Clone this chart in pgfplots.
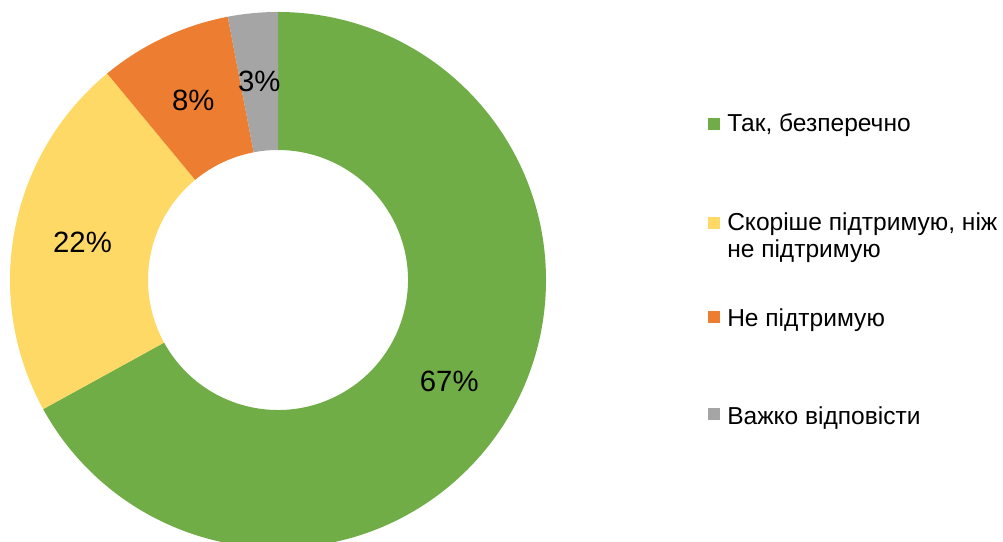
\documentclass[border=0pt]{standalone}
\usepackage{pgfplots}
\pgfplotsset{compat=1.18}
\usepackage{fontspec}
\setmainfont{Liberation Sans}
\definecolor{pgreen}{HTML}{70AD47}
\definecolor{pyellow}{HTML}{FFD966}
\definecolor{porange}{HTML}{ED7D31}
\definecolor{pgray}{HTML}{A5A5A5}
\begin{document}
\begin{tikzpicture}
\begin{axis}[scale only axis, width=752.25pt, height=406.5pt,
  xmin=0, xmax=1003, ymin=0, ymax=542, hide axis]
\def\cum{0}
\pgfplotsforeachungrouped \v/\c in {67/pgreen,22/pyellow,8/porange,3/pgray}{%
  \pgfmathsetmacro\a{90-\cum*3.6}%
  \pgfmathsetmacro\b{90-(\cum+\v)*3.6}%
  \pgfmathsetmacro\m{(\a+\b)/2}%
  \edef\temp{\noexpand\fill[\c] (axis cs:278,262) ++(\a:201pt) arc[start angle=\a, end angle=\b, radius=201pt] -- ++(\b+180:103.5pt) arc[start angle=\b, end angle=\a, radius=97.5pt] -- cycle;
  \noexpand\path (axis cs:278,262) ++(\m:149.25pt) node[font=\noexpand\fontsize{22}{26}\noexpand\selectfont] {\v\noexpand\%};}%
  \temp
  \pgfmathsetmacro\cum{\cum+\v}%
}
% legend
\fill[pgreen] (axis cs:708,412) rectangle (axis cs:720,424);
\node[anchor=base west, inner sep=0pt, font=\fontsize{18.4}{24}\selectfont] at (axis cs:727,410) {Так, безперечно};
\fill[pyellow] (axis cs:708,313) rectangle (axis cs:720,325);
\node[anchor=base west, inner sep=0pt, font=\fontsize{18.4}{24}\selectfont] at (axis cs:727,311) {Скоріше підтримую, ніж};
\node[anchor=base west, inner sep=0pt, font=\fontsize{18.4}{24}\selectfont] at (axis cs:727,284) {не підтримую};
\fill[porange] (axis cs:708,219) rectangle (axis cs:720,231);
\node[anchor=base west, inner sep=0pt, font=\fontsize{18.4}{24}\selectfont] at (axis cs:727,215) {Не підтримую};
\fill[pgray] (axis cs:708,122) rectangle (axis cs:720,134);
\node[anchor=base west, inner sep=0pt, font=\fontsize{18.4}{24}\selectfont] at (axis cs:727,117) {Важко відповісти};
\end{axis}
\pgfresetboundingbox
\path (current axis.south west) rectangle (current axis.north east);
\end{tikzpicture}
\end{document}
